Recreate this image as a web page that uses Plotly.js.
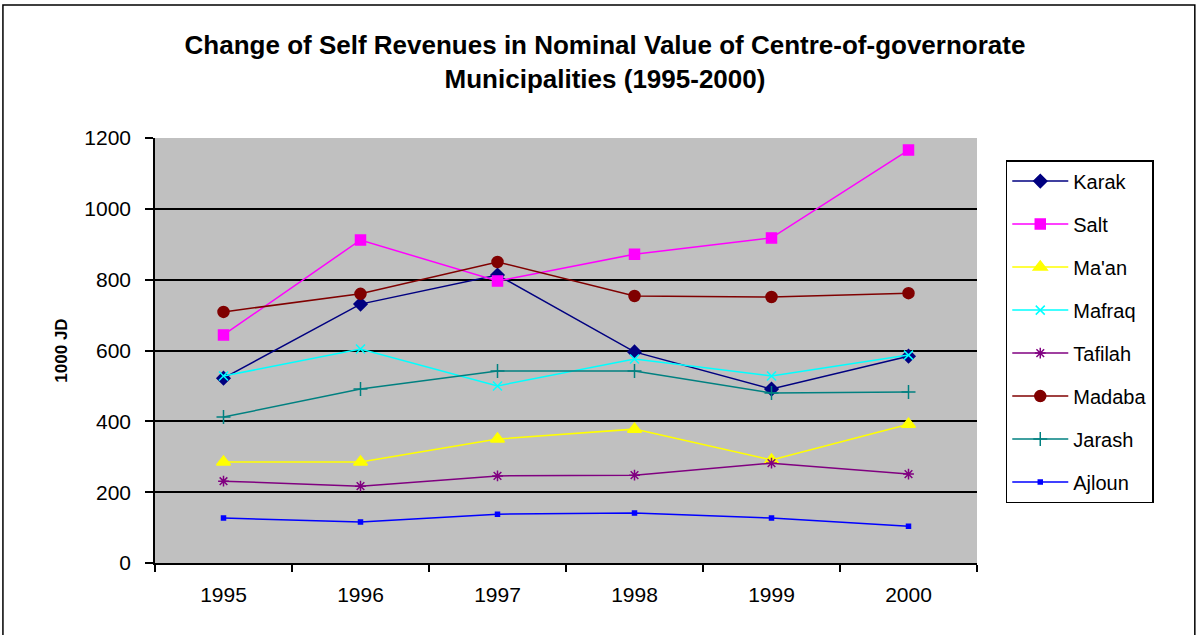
<!DOCTYPE html>
<html>
<head>
<meta charset="utf-8">
<script src="https://cdn.plot.ly/plotly-3.0.1.min.js"></script>
<style>html,body{margin:0;padding:0;background:#fff;}#chart{width:1198px;height:635px;}</style>
</head>
<body>
<div id="chart"></div>
<script>
const years = ['1995', '1996', '1997', '1998', '1999', '2000'];
const karak   = [522, 731, 813, 596, 491, 584];
const salt    = [644, 912, 796, 872, 918, 1166];
const maan    = [285, 285, 350, 378, 291, 392];
const mafraq  = [528, 604, 500, 576, 528, 587];
const tafilah = [231, 217, 246, 248, 282, 251];
const madaba  = [709, 760, 850, 754, 751, 762];
const jarash  = [412, 491, 542, 542, 480, 483];
const ajloun  = [127, 116, 138, 141, 127, 104];

const series = [
  {name: 'Karak',   y: karak,   color: '#000080', symbol: 'diamond', size: 10},
  {name: 'Salt',    y: salt,    color: '#ff00ff', symbol: 'square', size: 10},
  {name: "Ma'an",   y: maan,    color: '#ffff00', symbol: 'triangle-up', size: 12},
  {name: 'Mafraq',  y: mafraq,  color: '#00ffff', symbol: 'x-thin-open', size: 9},
  {name: 'Tafilah', y: tafilah, color: '#800080', symbol: 'asterisk-open', size: 9},
  {name: 'Madaba',  y: madaba,  color: '#800000', symbol: 'circle', size: 11},
  {name: 'Jarash',  y: jarash,  color: '#008080', symbol: 'cross-thin-open', size: 10},
  {name: 'Ajloun',  y: ajloun,  color: '#0000ff', symbol: 'square', size: 4}
];

const traces = series.map((s, i) => ({
  type: 'scatter',
  mode: 'lines+markers',
  name: s.name,
  legendgroup: 'g' + i,
  x: years,
  y: s.y,
  line: {color: s.color, width: 1.5},
  marker: {symbol: s.symbol, size: s.size, color: s.color, line: {color: s.color, width: 1.5}}
}));

const layout = {
  width: 1198, height: 635,
  margin: {l: 155, r: 221, t: 138, b: 72},
  paper_bgcolor: '#ffffff',
  plot_bgcolor: '#c0c0c0',
  font: {family: 'Liberation Sans, Arial, sans-serif', size: 20, color: '#000'},
  title: {
    text: '<b>Change of Self Revenues in Nominal Value of Centre-of-governorate<br>Municipalities (1995-2000)</b>',
    font: {size: 26, color: '#000'},
    x: 0.505, xanchor: 'center', y: 0.915, yanchor: 'top'
  },
  xaxis: {
    type: 'category',
    tickson: 'boundaries',
    ticks: 'outside', ticklen: 7, tickcolor: '#000', tickwidth: 1.5,
    showline: true, linecolor: '#000', linewidth: 1.5,
    showgrid: false, zeroline: false,
    tickfont: {size: 21},
    ticklabelstandoff: 12,
    range: [-0.5, 5.5]
  },
  yaxis: {
    range: [0, 1200], dtick: 200,
    ticks: 'outside', ticklen: 8, tickcolor: '#000', tickwidth: 1.5,
    showline: true, linecolor: '#000', linewidth: 1.5,
    showgrid: true, gridcolor: '#000', gridwidth: 1.5,
    zeroline: false,
    tickfont: {size: 21},
    ticklabelstandoff: 10,
    title: {text: '<b>1000 JD</b>', font: {size: 17}, standoff: 12}
  },
  legend: {
    x: 1.035, xanchor: 'left', y: 0.948, yanchor: 'top',
    bgcolor: '#ffffff', bordercolor: '#000', borderwidth: 1.5,
    font: {size: 20},
    itemwidth: 56,
    traceorder: 'grouped', tracegroupgap: 14
  },
  shapes: [{
    type: 'rect', xref: 'paper', yref: 'paper',
    x0: -0.185, x1: 1.265, y0: -0.2, y1: 1.313,
    line: {color: '#000', width: 1.5}
  }],
  showlegend: true
};

Plotly.newPlot('chart', traces, layout, {displayModeBar: false, responsive: false});
</script>
</body>
</html>
